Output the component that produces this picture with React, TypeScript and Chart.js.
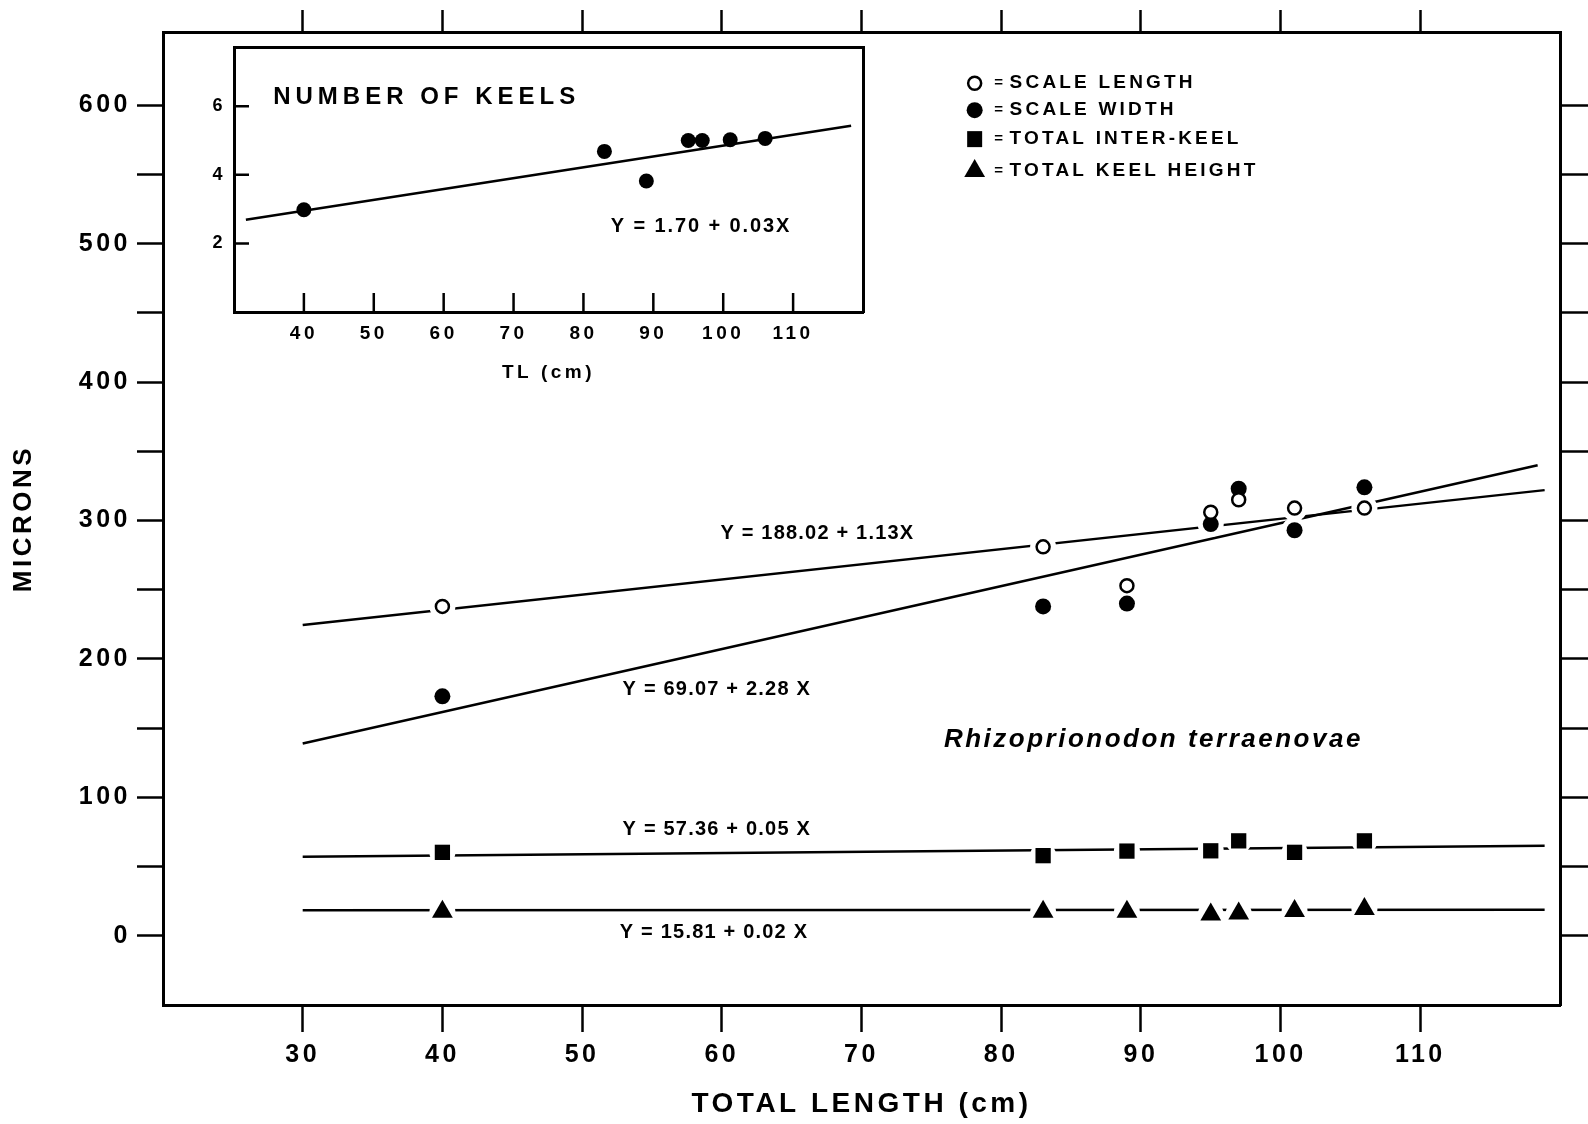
import React, { useEffect, useRef } from 'react';
import { Chart, registerables } from 'chart.js';

Chart.register(...registerables);

// ---------- values ----------
const specimenTL = [40, 83, 89, 95, 97, 101, 106];
const scaleLength = [238, 281, 253, 306, 315, 309, 309];
const scaleWidth = [173, 238, 240, 297.5, 323, 293, 324];
const totalInterKeel = [60.3, 57.9, 61.2, 61.4, 68.6, 60.3, 68.6];
const totalKeelHeight = [17.3, 17.3, 17.3, 15.4, 16.1, 18, 19.3];
const numberOfKeels = [2.98, 4.68, 3.82, 5.0, 5.0, 5.02, 5.06];

// fitted lines: end points as drawn in the figure
const lengthFitX = [30, 118.9];
const lengthFitY = [224.5, 322];
const widthFitX = [30, 118.4];
const widthFitY = [139, 340];
const interKeelFitX = [30, 118.9];
const interKeelFitY = [57.2, 65];
const keelHeightFitX = [30, 118.9];
const keelHeightFitY = [18.4, 18.8];
const keelsFitX = [31.7, 118.3];
const keelsFitY = [2.69, 5.43];

// tick values
const mainXTicks = [30, 40, 50, 60, 70, 80, 90, 100, 110];
const mainYTicks = [0, 50, 100, 150, 200, 250, 300, 350, 400, 450, 500, 550, 600];
const insetXTicks = [40, 50, 60, 70, 80, 90, 100, 110];
const insetYTicks = [2, 4, 6];

// texts
const seriesNames = ['SCALE LENGTH', 'SCALE WIDTH', 'TOTAL INTER-KEEL', 'TOTAL KEEL HEIGHT'];
const equationTexts = ['Y = 188.02 + 1.13X', 'Y = 69.07 + 2.28 X', 'Y = 57.36 + 0.05 X', 'Y = 15.81 + 0.02 X'];
const speciesName = 'Rhizoprionodon terraenovae';
const insetHeading = 'NUMBER OF KEELS';
const insetEquation = 'Y = 1.70 + 0.03X';
const xTitle = 'TOTAL LENGTH (cm)';
const yTitle = 'MICRONS';
const insetXTitle = 'TL (cm)';

// ---------- styling / placement ----------
const FONT = '"Liberation Sans", Arial, sans-serif';
const W = 1588;
const H = 1124;
const INSET = { left: 190, top: 29, width: 700, height: 371 };

// anchor points for the free texts, in data units of the main chart
const equationAnchors = [
  [59.9, 290.5],
  [52.9, 177.8],
  [52.9, 76.9],
  [52.7, 2.2],
];
const speciesAnchor = [75.9, 141.3];
const legendMarkerX = 78.1;
const legendEqX = 79.5;
const legendTextX = 80.6;
const legendRowY = [616.0, 596.5, 575.6, 552.5];
const legendKinds = ['open', 'filled', 'square', 'triangle'];
// inset anchors, in inset data units
const insetHeadingAnchor = [35.6, 6.26];
const insetEquationAnchor = [83.9, 2.5];

function drawMarker(ctx: CanvasRenderingContext2D, kind: string, x: number, y: number) {
  ctx.save();
  ctx.fillStyle = '#000';
  ctx.strokeStyle = '#000';
  ctx.beginPath();
  if (kind === 'open') {
    ctx.arc(x, y, 6.5, 0, Math.PI * 2);
    ctx.fillStyle = '#fff';
    ctx.fill();
    ctx.lineWidth = 2.5;
    ctx.stroke();
  } else if (kind === 'filled') {
    ctx.arc(x, y, 8, 0, Math.PI * 2);
    ctx.fill();
  } else if (kind === 'square') {
    ctx.rect(x - 7.5, y - 8, 15, 16);
    ctx.fill();
  } else {
    const r = 12;
    ctx.moveTo(x, y - r);
    ctx.lineTo(x - r * Math.sin(Math.PI / 3), y + r / 2);
    ctx.lineTo(x + r * Math.sin(Math.PI / 3), y + r / 2);
    ctx.closePath();
    ctx.fill();
  }
  ctx.restore();
}

const spacing = (px: string) => ({
  id: 'letterSpacing',
  beforeDraw(chart: any) {
    chart.ctx.letterSpacing = px;
  },
  afterDraw(chart: any) {
    chart.ctx.letterSpacing = '0px';
  },
});

const mainNotes = {
  id: 'mainNotes',
  afterDatasetsDraw(chart: any) {
    const { ctx } = chart;
    const xs = chart.scales.x;
    const ys = chart.scales.y;
    ctx.save();
    ctx.fillStyle = '#000';
    ctx.textAlign = 'left';
    ctx.textBaseline = 'middle';
    ctx.font = `bold 20px ${FONT}`;
    ctx.letterSpacing = '1.2px';
    equationTexts.forEach((t, i) => {
      ctx.fillText(t, xs.getPixelForValue(equationAnchors[i][0]), ys.getPixelForValue(equationAnchors[i][1]));
    });
    ctx.font = `italic bold 26px ${FONT}`;
    ctx.letterSpacing = '2.5px';
    ctx.fillText(speciesName, xs.getPixelForValue(speciesAnchor[0]), ys.getPixelForValue(speciesAnchor[1]));
    seriesNames.forEach((name, i) => {
      const py = ys.getPixelForValue(legendRowY[i]);
      drawMarker(ctx, legendKinds[i], xs.getPixelForValue(legendMarkerX), py);
      ctx.font = `bold 15px ${FONT}`;
      ctx.letterSpacing = '0px';
      ctx.fillText('=', xs.getPixelForValue(legendEqX), py);
      ctx.font = `bold 19px ${FONT}`;
      ctx.letterSpacing = '3.2px';
      ctx.fillText(name, xs.getPixelForValue(legendTextX), py);
    });
    ctx.restore();
  },
};

const insetNotes = {
  id: 'insetNotes',
  afterDraw(chart: any) {
    const { ctx, chartArea } = chart;
    const xs = chart.scales.x;
    const ys = chart.scales.y;
    ctx.save();
    ctx.strokeStyle = '#000';
    ctx.lineWidth = 2.5;
    ctx.beginPath();
    insetXTicks.forEach((v) => {
      const px = xs.getPixelForValue(v);
      ctx.moveTo(px, chartArea.bottom);
      ctx.lineTo(px, chartArea.bottom - 19);
    });
    insetYTicks.forEach((v) => {
      const py = ys.getPixelForValue(v);
      ctx.moveTo(chartArea.left, py);
      ctx.lineTo(chartArea.left + 15, py);
    });
    ctx.stroke();
    ctx.fillStyle = '#000';
    ctx.textAlign = 'left';
    ctx.textBaseline = 'middle';
    ctx.font = `bold 24px ${FONT}`;
    ctx.letterSpacing = '5px';
    ctx.fillText(insetHeading, xs.getPixelForValue(insetHeadingAnchor[0]), ys.getPixelForValue(insetHeadingAnchor[1]));
    ctx.font = `bold 20px ${FONT}`;
    ctx.letterSpacing = '1.9px';
    ctx.fillText(insetEquation, xs.getPixelForValue(insetEquationAnchor[0]), ys.getPixelForValue(insetEquationAnchor[1]));
    ctx.restore();
  },
};

const pts = (xs: number[], ys: number[]) => xs.map((x, i) => ({ x, y: ys[i] }));

const fitLine = (xs: number[], ys: number[]) => ({
  data: pts(xs, ys),
  showLine: true,
  borderColor: '#000',
  borderWidth: 2.5,
  pointRadius: 0,
  order: 2,
});

const halo = (ys: number[]) => ({
  data: pts(specimenTL, ys),
  pointRadius: 13,
  pointBackgroundColor: '#fff',
  pointBorderColor: '#fff',
  pointBorderWidth: 0,
  order: 1,
});

const marks = (ys: number[], style: string, r: number, fill: string, bw: number) => ({
  data: pts(specimenTL, ys),
  pointStyle: style,
  pointRadius: r,
  pointBackgroundColor: fill,
  pointBorderColor: '#000',
  pointBorderWidth: bw,
  order: 0,
});

const setTicks = (vals: number[]) => (s: any) => {
  s.ticks = vals.map((v) => ({ value: v }));
};

const frameAxis = (extra: any) => ({
  type: 'linear',
  border: { display: true, color: '#000', width: 3 },
  ...extra,
});

export default function App() {
  const mainRef = useRef<HTMLCanvasElement>(null);
  const insetRef = useRef<HTMLCanvasElement>(null);

  useEffect(() => {
    if (!mainRef.current || !insetRef.current) return;
    Chart.defaults.font.family = FONT;
    Chart.defaults.color = '#000';

    const main = new Chart(mainRef.current, {
      type: 'scatter',
      data: {
        datasets: [
          fitLine(lengthFitX, lengthFitY),
          fitLine(widthFitX, widthFitY),
          fitLine(interKeelFitX, interKeelFitY),
          fitLine(keelHeightFitX, keelHeightFitY),
          halo(scaleLength),
          halo(scaleWidth),
          halo(totalInterKeel),
          halo(totalKeelHeight),
          marks(scaleLength, 'circle', 6.5, '#fff', 2.5),
          marks(scaleWidth, 'circle', 8, '#000', 0),
          marks(totalInterKeel, 'rect', 10.8, '#000', 0),
          marks(totalKeelHeight, 'triangle', 12, '#000', 0),
        ] as any,
      },
      options: {
        responsive: false,
        animation: false,
        events: [],
        layout: { padding: 0 },
        plugins: { legend: { display: false }, tooltip: { enabled: false } },
        scales: {
          x: frameAxis({
            position: 'bottom',
            min: 20,
            max: 120,
            afterBuildTicks: setTicks(mainXTicks),
            afterFit: (s: any) => { s.height = H - 1005; },
            grid: { drawOnChartArea: false, drawTicks: true, tickLength: 27, tickWidth: 2.5, tickColor: '#000' },
            ticks: { color: '#000', font: { size: 25, weight: 'bold' }, padding: 8, maxRotation: 0, autoSkip: false, callback: (v: any) => String(v) },
            title: { display: true, text: xTitle, color: '#000', font: { size: 28, weight: 'bold' }, padding: { top: 0, bottom: 3 } },
          }),
          x2: frameAxis({
            position: 'top',
            min: 20,
            max: 120,
            afterBuildTicks: setTicks(mainXTicks),
            afterFit: (s: any) => { s.height = 32; },
            grid: { drawOnChartArea: false, drawTicks: true, tickLength: 22, tickWidth: 2.5, tickColor: '#000' },
            ticks: { display: false },
          }),
          y: frameAxis({
            position: 'left',
            min: -50,
            max: 653,
            afterBuildTicks: setTicks(mainYTicks),
            afterFit: (s: any) => { s.width = 163; },
            grid: { drawOnChartArea: false, drawTicks: true, tickLength: 26, tickWidth: 2.5, tickColor: '#000' },
            ticks: { color: '#000', font: { size: 25, weight: 'bold' }, padding: 6, autoSkip: false, callback: (v: any) => (v % 100 === 0 ? String(v) : '') },
            title: { display: true, text: yTitle, color: '#000', font: { size: 26, weight: 'bold' }, padding: { top: 8, bottom: 0 } },
          }),
          y2: frameAxis({
            position: 'right',
            min: -50,
            max: 653,
            afterBuildTicks: setTicks(mainYTicks),
            afterFit: (s: any) => { s.width = W - 1560; },
            grid: { drawOnChartArea: false, drawTicks: true, tickLength: 28, tickWidth: 2.5, tickColor: '#000' },
            ticks: { display: false },
          }),
        },
      } as any,
      plugins: [spacing('3.5px'), mainNotes] as any,
    });

    const inset = new Chart(insetRef.current, {
      type: 'scatter',
      data: {
        datasets: [
          fitLine(keelsFitX, keelsFitY),
          marks(numberOfKeels, 'circle', 7.5, '#000', 0),
        ] as any,
      },
      options: {
        responsive: false,
        animation: false,
        events: [],
        layout: { padding: 0 },
        plugins: { legend: { display: false }, tooltip: { enabled: false } },
        scales: {
          x: frameAxis({
            position: 'bottom',
            min: 30,
            max: 120,
            afterBuildTicks: setTicks(insetXTicks),
            afterFit: (s: any) => { s.height = 88; },
            grid: { drawOnChartArea: false, drawTicks: false },
            ticks: { color: '#000', font: { size: 19, weight: 'bold' }, padding: 10, maxRotation: 0, autoSkip: false, callback: (v: any) => String(v) },
            title: { display: true, text: insetXTitle, color: '#000', font: { size: 19, weight: 'bold' }, padding: { top: 0, bottom: 16 } },
          }),
          x2: frameAxis({
            position: 'top',
            min: 30,
            max: 120,
            afterFit: (s: any) => { s.height = 6; },
            grid: { drawOnChartArea: false, drawTicks: false },
            ticks: { display: false },
          }),
          y: frameAxis({
            position: 'left',
            min: 0,
            max: 7.7,
            afterBuildTicks: setTicks(insetYTicks),
            afterFit: (s: any) => { s.width = 44; },
            grid: { drawOnChartArea: false, drawTicks: false },
            ticks: { color: '#000', font: { size: 18, weight: 'bold' }, padding: 8, autoSkip: false, callback: (v: any) => String(v) },
          }),
          y2: frameAxis({
            position: 'right',
            min: 0,
            max: 7.7,
            afterFit: (s: any) => { s.width = 27; },
            grid: { drawOnChartArea: false, drawTicks: false },
            ticks: { display: false },
          }),
        },
      } as any,
      plugins: [spacing('3.5px'), insetNotes] as any,
    });

    return () => {
      main.destroy();
      inset.destroy();
    };
  }, []);

  return (
    <div style={{ position: 'absolute', left: 0, top: 0, width: W, height: H, background: '#fff', overflow: 'hidden' }}>
      <canvas ref={mainRef} width={W} height={H} style={{ position: 'absolute', left: 0, top: 0, width: W, height: H }} />
      <canvas
        ref={insetRef}
        width={INSET.width}
        height={INSET.height}
        style={{ position: 'absolute', left: INSET.left, top: INSET.top, width: INSET.width, height: INSET.height }}
      />
    </div>
  );
}
